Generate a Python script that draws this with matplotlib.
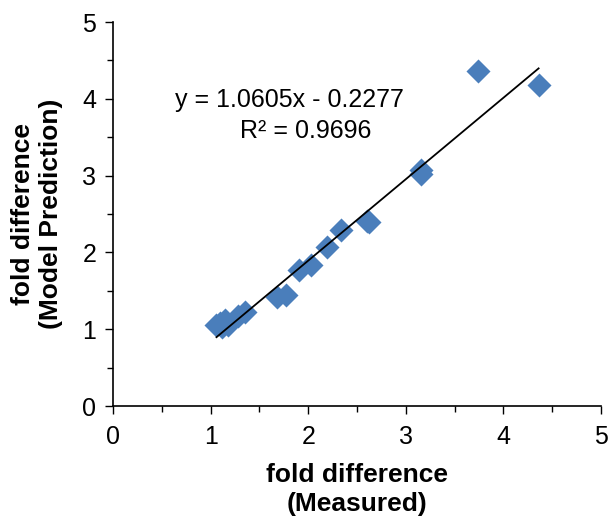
import matplotlib
matplotlib.use("Agg")
import matplotlib.pyplot as plt
import numpy as np
from matplotlib.ticker import MultipleLocator

plt.rcParams['font.family'] = ['Liberation Sans', 'DejaVu Sans']

measured = [1.06, 1.10, 1.12, 1.15, 1.18, 1.28, 1.35, 1.68, 1.77, 1.91, 2.03, 2.19, 2.34, 2.62, 2.60,
            3.15, 3.16, 3.74, 4.36]
predicted = [1.05, 1.08, 1.03, 1.12, 1.06, 1.17, 1.22, 1.42, 1.45, 1.77, 1.83, 2.07, 2.29, 2.39, 2.41,
             3.07, 3.02, 4.36, 4.18]
slope = 1.0605
intercept = -0.2277
r2 = 0.9696
xticks = [0, 1, 2, 3, 4, 5]
yticks = [0, 1, 2, 3, 4, 5]

fig = plt.figure(figsize=(6.09, 5.19), dpi=100)
ax = fig.add_axes([0.1856, 0.2177, 0.8014, 0.7399])

ax.scatter(measured, predicted, marker='D', s=150, color='#4A7EBB', zorder=2, linewidths=0)
xs = np.array([min(measured), max(measured)])
ax.plot(xs, slope * xs + intercept, color='black', lw=1.3, zorder=3)

ax.set_xlim(0, 5)
ax.set_ylim(0, 5)
ax.set_xticks(xticks)
ax.set_yticks(yticks)
ax.xaxis.set_minor_locator(MultipleLocator(0.5))
ax.yaxis.set_minor_locator(MultipleLocator(0.5))
ax.tick_params(which='major', direction='out', length=6, width=1, labelsize=18)
ax.tick_params(axis='x', which='major', pad=8)
ax.tick_params(axis='y', which='major', pad=6)
ax.tick_params(which='minor', direction='out', length=4, width=1)
for s in ['top', 'right']:
    ax.spines[s].set_visible(False)
for s in ['left', 'bottom']:
    ax.spines[s].set_linewidth(1.2)

sign = '-' if intercept < 0 else '+'
ax.text(1.81, 3.98, f"y = {slope:.4f}x {sign} {abs(intercept):.4f}", fontsize=18,
        ha='center', va='center')
ax.text(1.97, 3.58, f"R² = {r2:.4f}", fontsize=18, ha='center', va='center')

ax.set_xlabel("fold difference\n(Measured)", fontsize=19, fontweight='bold', labelpad=10,
              linespacing=1.25)
ax.set_ylabel("fold difference\n(Model Prediction)", fontsize=19, fontweight='bold', labelpad=14,
              linespacing=1.2)

fig.savefig("out.png", dpi=100)
